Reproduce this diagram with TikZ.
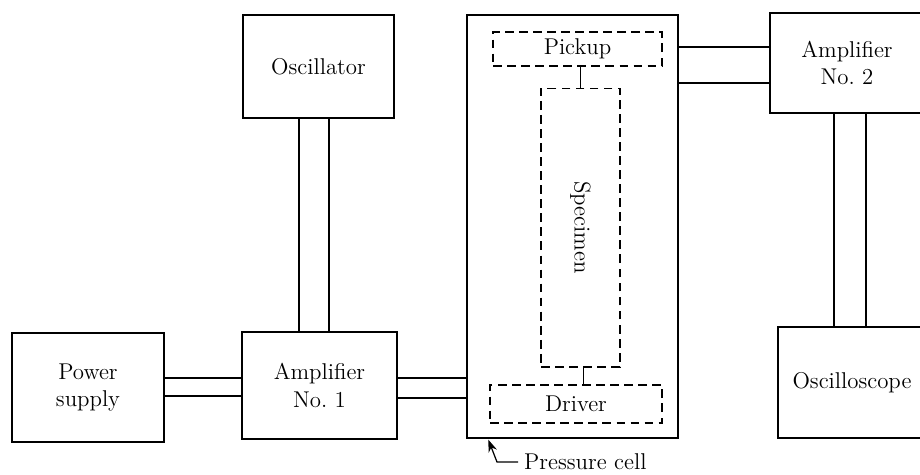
\documentclass[tikz,border=0pt]{standalone}
\usepackage{tikz}
\usetikzlibrary{arrows.meta}

\begin{document}
\begin{tikzpicture}[x=0.02cm, y=-0.02cm,
    font=\fontsize{13}{15.5}\selectfont,
    block/.style={draw, line width=0.8pt, align=center, inner sep=0pt},
    part/.style={draw, dash pattern=on 5pt off 3pt, line width=0.6pt, inner sep=0pt},
    wire/.style={line width=0.7pt}]
    \clip (0,0) rectangle (920,474);

    % Power supply and amplifier
    \node[block, minimum width=3.04cm, minimum height=2.18cm] (psu) at (88,387.5) {Power\\supply};
    \node[block, minimum width=3.10cm, minimum height=2.14cm] (amp1) at (319.5,385.5) {Amplifier\\No.~1};
    \node[block, minimum width=3.02cm, minimum height=2.06cm] (osc) at (318.5,66.5) {Oscillator};

    % Pressure cell
    \node[block, minimum width=4.22cm, minimum height=8.46cm] (cell) at (572.5,226.5) {};
    \node[part, minimum width=3.38cm, minimum height=0.68cm] (pickup) at (577.5,49) {Pickup};
    \node[part, minimum width=1.58cm, minimum height=5.58cm] (spec) at (580.5,227.5) {};
    \node[rotate=-90] (speclbl) at (spec.center) {Specimen};
    \node[part, minimum width=3.44cm, minimum height=0.76cm] (driver) at (576,404) {Driver};
    \draw[wire] (spec.north) -- (spec.north |- pickup.south);
    \draw[wire] ([xshift=0.06cm]spec.south) -- ([xshift=0.06cm]spec.south |- driver.north);

    % Readout side
    \node[block, minimum width=3.08cm, minimum height=2.00cm] (amp2) at (847,63) {Amplifier\\No.~2};
    \node[block, minimum width=2.96cm, minimum height=2.22cm] (scope) at (852,382.5) {Oscilloscope};

    % Wire pairs
    \draw[wire] ([yshift=0.19cm]psu.east) -- ([yshift=0.19cm]psu.east -| amp1.west);
    \draw[wire] ([yshift=-0.17cm]psu.east) -- ([yshift=-0.17cm]psu.east -| amp1.west);
    \draw[wire] ([yshift=0.15cm]amp1.east) -- ([yshift=0.15cm]amp1.east -| cell.west);
    \draw[wire] ([yshift=-0.25cm]amp1.east) -- ([yshift=-0.25cm]amp1.east -| cell.west);
    \draw[wire] ([xshift=-0.39cm]osc.south) -- ([xshift=-0.39cm]osc.south |- amp1.north);
    \draw[wire] ([xshift=0.21cm]osc.south) -- ([xshift=0.21cm]osc.south |- amp1.north);
    \draw[wire] ([yshift=0.32cm]amp2.west -| cell.east) -- ([yshift=0.32cm]amp2.west);
    \draw[wire] ([yshift=-0.40cm]amp2.west -| cell.east) -- ([yshift=-0.40cm]amp2.west);
    \draw[wire] ([xshift=-0.26cm]amp2.south) -- ([xshift=-0.26cm]amp2.south |- scope.north);
    \draw[wire] ([xshift=0.38cm]amp2.south) -- ([xshift=0.38cm]amp2.south |- scope.north);

    % Label
    \node[anchor=west] (cellnote) at (518,462) {Pressure cell};
    \draw[wire, -{Stealth[length=7pt, width=5pt]}] (cellnote.west) -- ++(-0.42cm,0) -- ([xshift=0.44cm, yshift=-0.02cm]cell.south west);
\end{tikzpicture}
\end{document}
